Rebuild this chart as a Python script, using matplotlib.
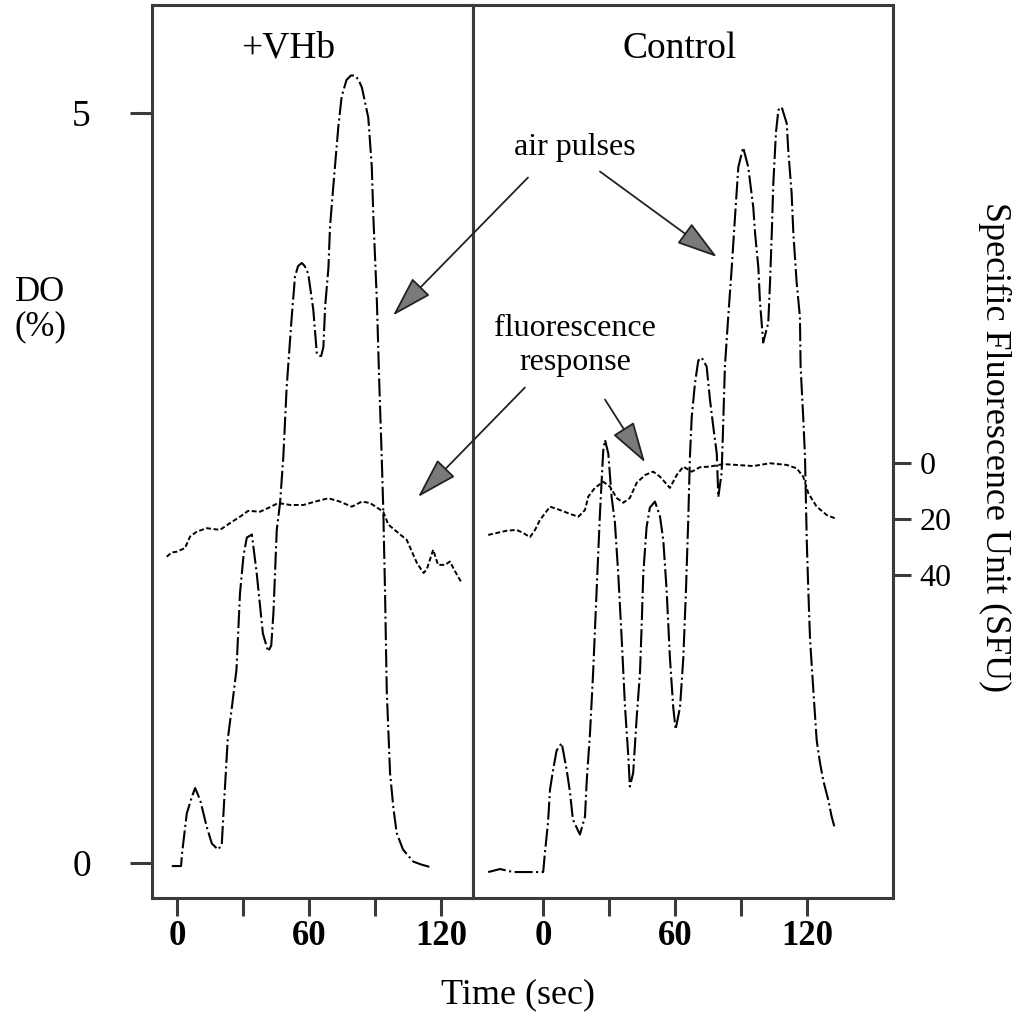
import matplotlib
matplotlib.use("Agg")
import matplotlib.pyplot as plt

plt.rcParams['font.family'] = ['Liberation Serif', 'DejaVu Serif']
plt.rcParams['lines.scale_dashes'] = False

# --- Data ---
# +VHb panel, dissolved oxygen (%)
t_do_vhb = [-2.4, 1.8, 2.3, 4.4, 6.7, 8.2, 10.5, 13.5, 15.8, 18.6,
            20.3, 21.0, 23.0, 25.0, 27.0, 28.6, 30.2, 31.7, 34.0, 36.2,
            39.0, 41.4, 42.8, 43.8, 45.3, 46.8, 48.3, 49.8, 52.0, 53.6,
            55.0, 56.7, 58.0, 59.6, 61.9, 63.5, 64.5, 65.5, 66.5, 67.3,
            68.8, 69.5, 71.0, 73.3, 74.8, 77.0, 79.0, 80.9, 82.5, 84.0,
            86.9, 88.5, 89.2, 90.8, 91.9, 93.0, 93.7, 94.5, 95.3, 96.8,
            98.3, 99.8, 102.7, 107.3, 111.0, 115.8]
do_vhb = [-0.02, -0.02, 0.07, 0.33, 0.44, 0.50, 0.42, 0.24, 0.13, 0.09,
          0.12, 0.31, 0.82, 1.05, 1.29, 1.80, 2.05, 2.17, 2.19, 1.93,
          1.53, 1.41, 1.45, 1.67, 2.22, 2.40, 2.71, 3.17, 3.62, 3.91,
          3.98, 4.00, 3.98, 3.93, 3.69, 3.40, 3.38, 3.38, 3.44, 3.71,
          3.97, 4.24, 4.51, 4.91, 5.11, 5.22, 5.25, 5.25, 5.22, 5.17,
          4.97, 4.64, 4.31, 3.75, 3.20, 2.71, 2.37, 1.82, 1.15, 0.60,
          0.37, 0.20, 0.09, 0.01, -0.01, -0.03]

# +VHb panel, specific fluorescence (SFU)
t_sfu_vhb = [-4.7, -2.5, -0.2, 3.6, 5.9, 9.0, 13.5, 19.5, 24.0, 28.6,
             32.3, 37.7, 41.4, 46.0, 51.4, 57.4, 62.7, 68.8, 74.0, 79.4,
             84.0, 87.7, 93.7, 96.0, 99.8, 104.4, 109.0, 112.0, 113.5, 116.4,
             118.6, 121.8, 124.0, 126.4, 129.4]
sfu_vhb = [33.5, 32.0, 31.7, 30.4, 26.3, 24.5, 23.3, 23.9, 21.5, 19.2,
           17.1, 17.4, 16.1, 14.3, 15.0, 15.0, 13.8, 12.6, 13.8, 15.6,
           13.8, 14.3, 17.4, 22.0, 24.5, 27.5, 35.7, 39.3, 38.0, 31.0,
           36.4, 36.4, 35.2, 38.8, 42.9]

# Control panel, dissolved oxygen (%)
t_do_ctl = [-24.9, -19.5, -13.6, 0.1, 0.9, 2.3, 3.2, 4.6, 6.2, 8.5,
            10.8, 12.3, 13.6, 16.8, 19.1, 19.9, 21.4, 22.8, 24.4, 25.9,
            27.4, 28.2, 29.7, 31.2, 32.7, 34.2, 35.8, 37.3, 38.8, 39.5,
            41.0, 42.6, 44.1, 44.9, 45.6, 47.1, 48.6, 50.9, 53.2, 54.7,
            56.2, 57.7, 59.2, 60.3, 62.3, 63.8, 65.0, 66.0, 66.8, 67.6,
            69.1, 70.6, 72.1, 74.4, 75.9, 77.4, 79.0, 79.7, 81.2, 81.7,
            82.7, 84.2, 85.8, 87.3, 88.8, 91.0, 93.3, 95.6, 96.4, 97.9,
            98.6, 100.1, 102.4, 103.2, 104.0, 104.7, 105.9, 107.0, 108.5, 110.8,
            111.5, 113.0, 113.8, 115.3, 116.8, 117.1, 118.3, 119.1, 119.9, 120.6,
            121.4, 122.9, 124.4, 125.9, 127.4, 129.7, 131.2, 132.7]
do_ctl = [-0.06, -0.04, -0.06, -0.06, 0.07, 0.27, 0.49, 0.62, 0.75, 0.80,
          0.62, 0.47, 0.29, 0.19, 0.31, 0.55, 0.87, 1.27, 1.82, 2.33,
          2.75, 2.82, 2.73, 2.44, 2.27, 1.93, 1.49, 1.04, 0.71, 0.51,
          0.60, 0.97, 1.27, 1.60, 1.93, 2.24, 2.37, 2.41, 2.31, 2.15,
          1.82, 1.37, 1.04, 0.89, 1.04, 1.37, 1.82, 2.27, 2.71, 2.97,
          3.20, 3.35, 3.37, 3.31, 3.09, 2.91, 2.73, 2.44, 2.60, 2.82,
          3.31, 3.64, 3.97, 4.31, 4.64, 4.77, 4.64, 4.37, 4.20, 3.97,
          3.75, 3.47, 3.60, 3.87, 4.20, 4.53, 4.87, 5.02, 5.04, 4.93,
          4.75, 4.47, 4.20, 3.87, 3.64, 3.31, 2.97, 2.71, 2.15, 1.82,
          1.49, 1.15, 0.82, 0.67, 0.55, 0.42, 0.31, 0.23]

# Control panel, specific fluorescence (SFU)
t_sfu_ctl = [-24.9, -21.0, -16.5, -12.0, -9.0, -5.9, -3.6, -1.4, 3.2, 7.7,
             12.3, 16.1, 19.1, 20.6, 23.6, 27.4, 30.5, 33.5, 36.5, 39.5,
             42.6, 46.4, 50.1, 53.2, 57.7, 60.8, 63.8, 67.6, 71.4, 75.9,
             81.9, 88.0, 95.6, 103.2, 110.8, 115.3, 118.3, 120.6, 124.4, 129.0,
             133.5]
sfu_ctl = [25.7, 25.0, 24.2, 23.9, 25.0, 26.5, 23.9, 20.4, 15.6, 16.8,
           18.2, 19.2, 16.8, 12.0, 8.9, 6.7, 8.5, 12.5, 14.2, 12.5,
           7.1, 4.3, 3.1, 4.9, 8.9, 4.3, 1.3, 3.1, 1.5, 1.3,
           0.4, 0.7, 1.1, 0.1, 0.7, 1.9, 4.9, 10.8, 15.6, 18.6,
           20.0]

x_ticks = [0, 30, 60, 90, 120]
x_tick_labels = ['0', '', '60', '', '120']
do_ticks = [0, 5]
sfu_ticks = [0, 20, 40]

FRAME = '#3a3a3a'
DO_DASH = (13, 2.5, 1.5, 2.5)
SFU_DASH = (3.5, 1.8)

W, H = 1017, 1024
fig = plt.figure(figsize=(W / 100, H / 100), dpi=100)
bottom = 1 - 898 / H
height = (898 - 5) / H
ax1 = fig.add_axes([152 / W, bottom, (473 - 152) / W, height])
ax2 = fig.add_axes([473 / W, bottom, (893 - 473) / W, height])

# twin axes for the fluorescence scale (inverted, 0 at top)
ax1f = ax1.twinx()
ax2f = ax2.twinx()

ax1.set_xlim(-11.4, 134.5)
ax2.set_xlim(-31.8, 159.1)
for ax in (ax1, ax2):
    ax.set_ylim(-0.233, 5.72)
    for sp in ax.spines.values():
        sp.set_linewidth(2.2)
        sp.set_color(FRAME)
    ax.set_xticks(x_ticks)
    ax.set_xticklabels(x_tick_labels, fontsize=25, fontweight='bold')
    ax.tick_params(axis='x', direction='out', length=13, width=2.2,
                   color=FRAME, pad=3)

ax1.set_yticks(do_ticks)
ax1.set_yticklabels([str(v) for v in do_ticks], fontsize=27)
ax1.tick_params(axis='y', direction='out', length=16, width=2.2,
                color=FRAME, pad=28)
ax2.set_yticks([])
ax2.tick_params(axis='y', left=False, right=False, labelleft=False)

for axf in (ax1f, ax2f):
    axf.set_ylim(155.4, -163.6)
    for sp in axf.spines.values():
        sp.set_visible(False)
ax1f.set_yticks([])
ax2f.set_yticks(sfu_ticks)
ax2f.set_yticklabels([str(v) for v in sfu_ticks], fontsize=23)
ax2f.tick_params(axis='y', direction='out', length=13, width=2.2,
                 color=FRAME, pad=6)

ax1.plot(t_do_vhb, do_vhb, color='black', lw=1.5, dashes=DO_DASH)
ax2.plot(t_do_ctl, do_ctl, color='black', lw=1.5, dashes=DO_DASH)
ax1f.plot(t_sfu_vhb, sfu_vhb, color='black', lw=1.4, dashes=SFU_DASH)
ax2f.plot(t_sfu_ctl, sfu_ctl, color='black', lw=1.4, dashes=SFU_DASH)

# panel titles
ax1.text(50.5, 5.43, '+VHb', fontsize=27, ha='center', va='center')
ax2.text(62.3, 5.43, 'Control', fontsize=27, ha='center', va='center')

# annotations
ax2.text(14.5, 4.77, 'air pulses', fontsize=23, ha='center', va='center')
ax2.text(14.5, 3.45, 'fluorescence\nresponse', fontsize=23, ha='center',
         va='center', linespacing=1.2)
arrow = dict(arrowstyle='-|>,head_length=1.0,head_width=0.3',
             mutation_scale=26, fc='#7a7a7a', ec='#222222', lw=1.3,
             shrinkA=0, shrinkB=0)
for tail, tip in [((-6.8, 4.57), (-68.2, 3.65)),
                  ((25.9, 4.61), (79.1, 4.04)),
                  ((-8.2, 3.17), (-56.8, 2.44)),
                  ((28.2, 3.09), (46.4, 2.67))]:
    ax2.annotate('', xy=tip, xytext=tail, arrowprops=arrow,
                 annotation_clip=False)

# axis titles
fig.text(40 / W, 1 - 310 / H, 'DO\n(%)', fontsize=25, ha='center',
         va='center', linespacing=1.05)
fig.text(518 / W, 1 - 995 / H, 'Time (sec)', fontsize=26, ha='center',
         va='center')
fig.text(995 / W, 1 - 447 / H, 'Specific Fluorescence Unit (SFU)',
         fontsize=26, ha='center', va='center', rotation=270)

fig.savefig('out.png', dpi=100)
